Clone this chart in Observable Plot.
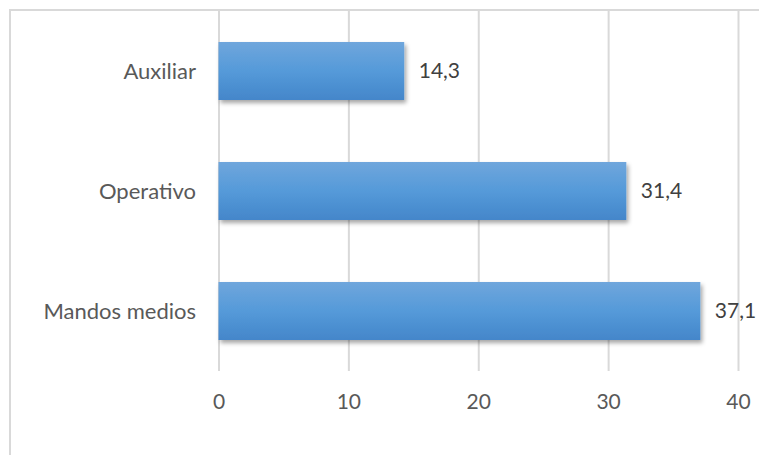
<!DOCTYPE html>
<html>
<head>
<meta charset="utf-8">
<script src="https://cdn.jsdelivr.net/npm/d3@7"></script>
<script src="https://cdn.jsdelivr.net/npm/@observablehq/plot@0.6"></script>
<style>
  html, body { margin: 0; padding: 0; background: #fff; overflow: hidden; }
  #wrap { position: relative; width: 759px; height: 455px; }
  #frame { position: absolute; left: 9px; top: 9px; width: 800px; height: 500px;
           border-left: 2px solid #d9d9d9; border-top: 2px solid #d9d9d9; }
  #chart { position: absolute; left: 0; top: 0; }
</style>
</head>
<body>
<div id="wrap"><div id="frame"></div><div id="chart"></div></div>
<script>
const categories = ["Mandos medios", "Operativo", "Auxiliar"];
const values = [37.1, 31.4, 14.3];
const order = ["Auxiliar", "Operativo", "Mandos medios"];
const xTicks = [0, 10, 20, 30, 40];

const data = categories.map((c, i) => ({category: c, value: values[i]}));
const fmt = v => v.toFixed(1).replace(".", ",");

const defs = () => {
  const d = d3.create("svg:defs");
  const g = d.append("linearGradient").attr("id", "barGrad")
    .attr("x1", 0).attr("y1", 0).attr("x2", 0).attr("y2", 1);
  g.append("stop").attr("offset", "0%").attr("stop-color", "#6fa6dc");
  g.append("stop").attr("offset", "50%").attr("stop-color", "#559ad9");
  g.append("stop").attr("offset", "100%").attr("stop-color", "#4486ca");
  const f = d.append("filter").attr("id", "shadow")
    .attr("x", "-10%").attr("y", "-20%").attr("width", "130%").attr("height", "160%");
  f.append("feDropShadow").attr("dx", 2).attr("dy", 3).attr("stdDeviation", 2)
    .attr("flood-color", "#000").attr("flood-opacity", 0.35);
  return d.node();
};

const chart = Plot.plot({
  width: 759,
  height: 455,
  marginLeft: 218.5,
  marginRight: 21,
  marginTop: 10,
  marginBottom: 84,
  style: {fontFamily: "Lato", fontSize: "22px", color: "#595959", background: "transparent", overflow: "visible"},
  x: {domain: [0, 40], label: null},
  y: {domain: order, paddingInner: 0.52, paddingOuter: 0.26, label: null},
  marks: [
    defs,
    Plot.ruleX(xTicks, {stroke: "#d9d9d9", strokeWidth: 2}),
    Plot.barX(data, {x: "value", y: "category", fill: "url(#barGrad)"}),
    Plot.text(data, {x: "value", y: "category", text: d => fmt(d.value), textAnchor: "start", dx: 14, fill: "#404040", fontSize: 21}),
    Plot.axisX({ticks: xTicks, tickSize: 0, tickPadding: 23, fontSize: 21, fill: "#595959"}),
    Plot.axisY({tickSize: 0, tickPadding: 23, fontSize: 22, fill: "#595959"})
  ]
});
d3.select(chart).selectAll("g[aria-label='bar'] rect").attr("filter", "url(#shadow)");
document.getElementById("chart").appendChild(chart);
</script>
</body>
</html>
